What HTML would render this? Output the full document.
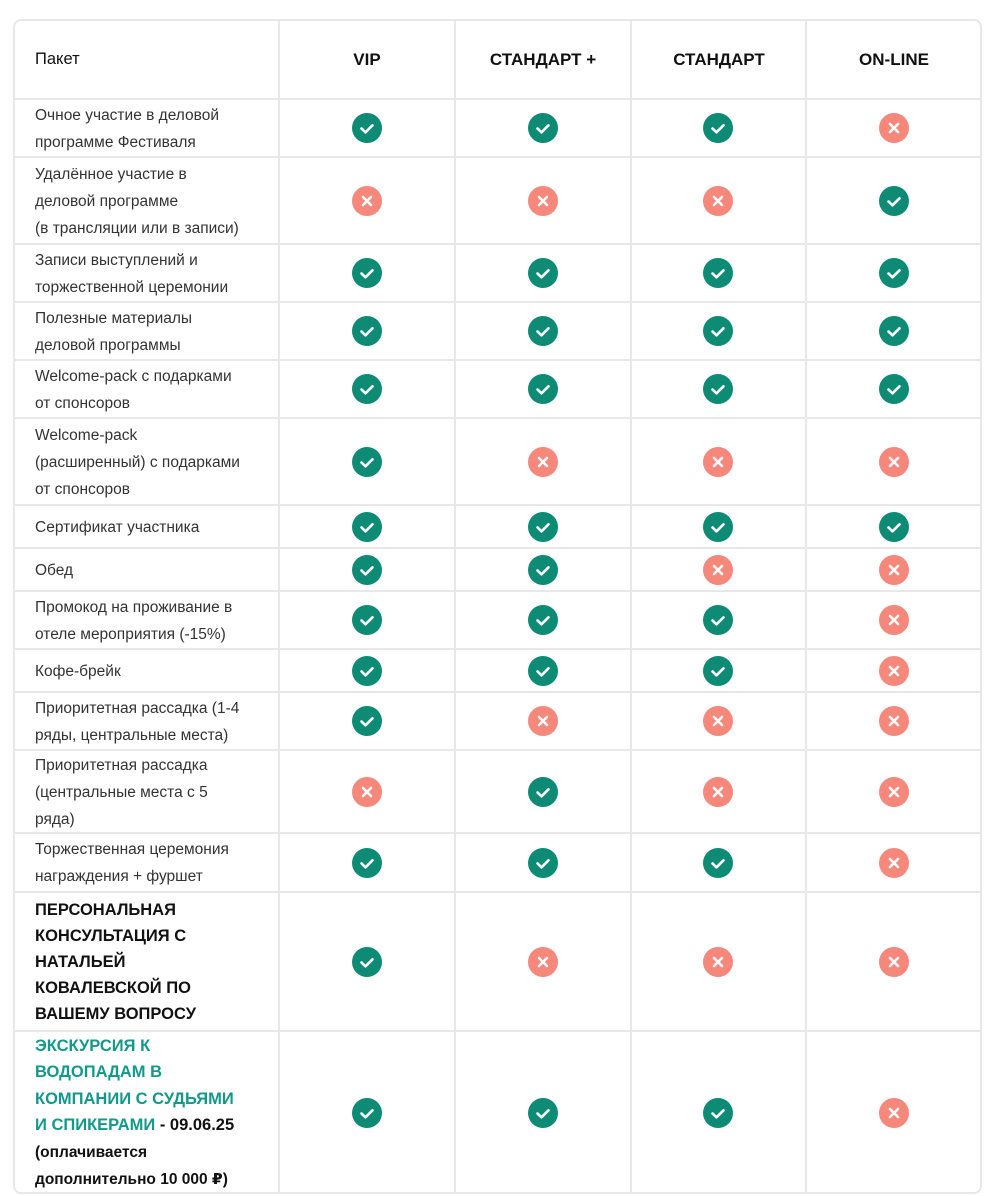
<!DOCTYPE html>
<html><head><meta charset="utf-8"><style>
body{margin:0;background:#fff;width:1000px;height:1196px;position:relative;font-family:"Liberation Sans","DejaVu Sans",sans-serif;overflow:hidden}
#tbl{position:absolute;left:13px;top:19px;width:969px;height:1175px;border:2px solid #e8e8e8;border-radius:8px;box-sizing:border-box}
.hl{position:absolute;left:13px;width:969px;height:2px;background:#e8e8e8}
.vl{position:absolute;top:19px;height:1175px;width:2px;background:#e8e8e8}
.lbl{position:absolute;left:35px;width:225px;font-size:15.5px;line-height:27px;color:#333;display:flex;align-items:center}
.hd{position:absolute;top:20px;height:79px;display:flex;align-items:center;justify-content:center;font-size:17px;font-weight:bold;color:#111;width:176px}
.ic{position:absolute;width:30px;height:30px;border-radius:50%}
.ic svg{display:block}
</style></head><body>
<div id="tbl"></div>
<div class="hd" style="left:35px;justify-content:flex-start;font-weight:normal;font-size:16.5px;color:#111">Пакет</div>
<div class="hd" style="left:279px">VIP</div>
<div class="hd" style="left:455px">СТАНДАРТ +</div>
<div class="hd" style="left:631px">СТАНДАРТ</div>
<div class="hd" style="left:806px">ON-LINE</div>
<script>
const rowBounds=[99,157,244,302,360,418,505,548,591,649,692,750,833,892,1031,1194];
const labels=[
"Очное участие в деловой<br>программе Фестиваля",
"Удалённое участие в<br>деловой программе<br>(в трансляции или в записи)",
"Записи выступлений и<br>торжественной церемонии",
"Полезные материалы<br>деловой программы",
"Welcome-pack с подарками<br>от спонсоров",
"Welcome-pack<br>(расширенный) с подарками<br>от спонсоров",
"Сертификат участника",
"Обед",
"Промокод на проживание в<br>отеле мероприятия (-15%)",
"Кофе-брейк",
"Приоритетная рассадка (1-4<br>ряды, центральные места)",
"Приоритетная рассадка<br>(центральные места с 5<br>ряда)",
"Торжественная церемония<br>награждения + фуршет",
"<b style='color:#111;font-size:16.5px;line-height:26px;display:block'>ПЕРСОНАЛЬНАЯ<br>КОНСУЛЬТАЦИЯ С<br>НАТАЛЬЕЙ<br>КОВАЛЕВСКОЙ ПО<br>ВАШЕМУ ВОПРОСУ</b>",
"<b style='color:#111;font-size:16.5px;line-height:26.5px;display:block'><span style='color:#12998a'>ЭКСКУРСИЯ К<br>ВОДОПАДАМ В<br>КОМПАНИИ С СУДЬЯМИ<br>И СПИКЕРАМИ</span> - 09.06.25<br><span style='font-size:15.5px'>(оплачивается<br>дополнительно 10 000 ₽)</span></b>"
];
const vip=[1,0,1,1,1,1,1,1,1,1,1,0,1,1,1];
const stdPlus=[1,0,1,1,1,0,1,1,1,1,0,1,1,0,1];
const std=[1,0,1,1,1,0,1,0,1,1,0,0,1,0,1];
const online=[0,1,1,1,1,0,1,0,0,0,0,0,0,0,0];
const series=[vip,stdPlus,std,online];
const colCenters=[367,543,718,894];
const colLines=[278,454,630,805];
colLines.forEach(x=>{const d=document.createElement('div');d.className='vl';d.style.left=x+'px';


document.body.appendChild(d);});
rowBounds.slice(0,-1).forEach(y=>{const d=document.createElement('div');d.className='hl';d.style.top=(y-1)+'px';


document.body.appendChild(d);});
const CHECK='<svg width="30" height="30"><path d="M9.5 15.5l4 3.8 7-7" fill="none" stroke="#fff" stroke-width="2.6" stroke-linecap="round" stroke-linejoin="round"/></svg>';
const CROSS='<svg width="30" height="30"><path d="M11 11l8 8M19 11l-8 8" fill="none" stroke="#fff" stroke-width="2.6" stroke-linecap="round"/></svg>';
labels.forEach((t,i)=>{
 const y0=rowBounds[i],y1=rowBounds[i+1];
 const l=document.createElement('div');l.className='lbl';l.style.top=(y0+1)+'px';l.style.height=(y1-y0-1)+'px';l.innerHTML='<div>'+t+'</div>';
 
 
 document.body.appendChild(l);
 series.forEach((s,j)=>{
  const c=document.createElement('div');c.className='ic';
  c.style.left=(colCenters[j]-15)+'px';c.style.top=((y0+y1)/2-15)+'px';
  c.style.background=s[i]?'#0d8b74':'#f5877b';c.innerHTML=s[i]?CHECK:CROSS;
  
  
  document.body.appendChild(c);
 });
});
</script>
</body></html>
